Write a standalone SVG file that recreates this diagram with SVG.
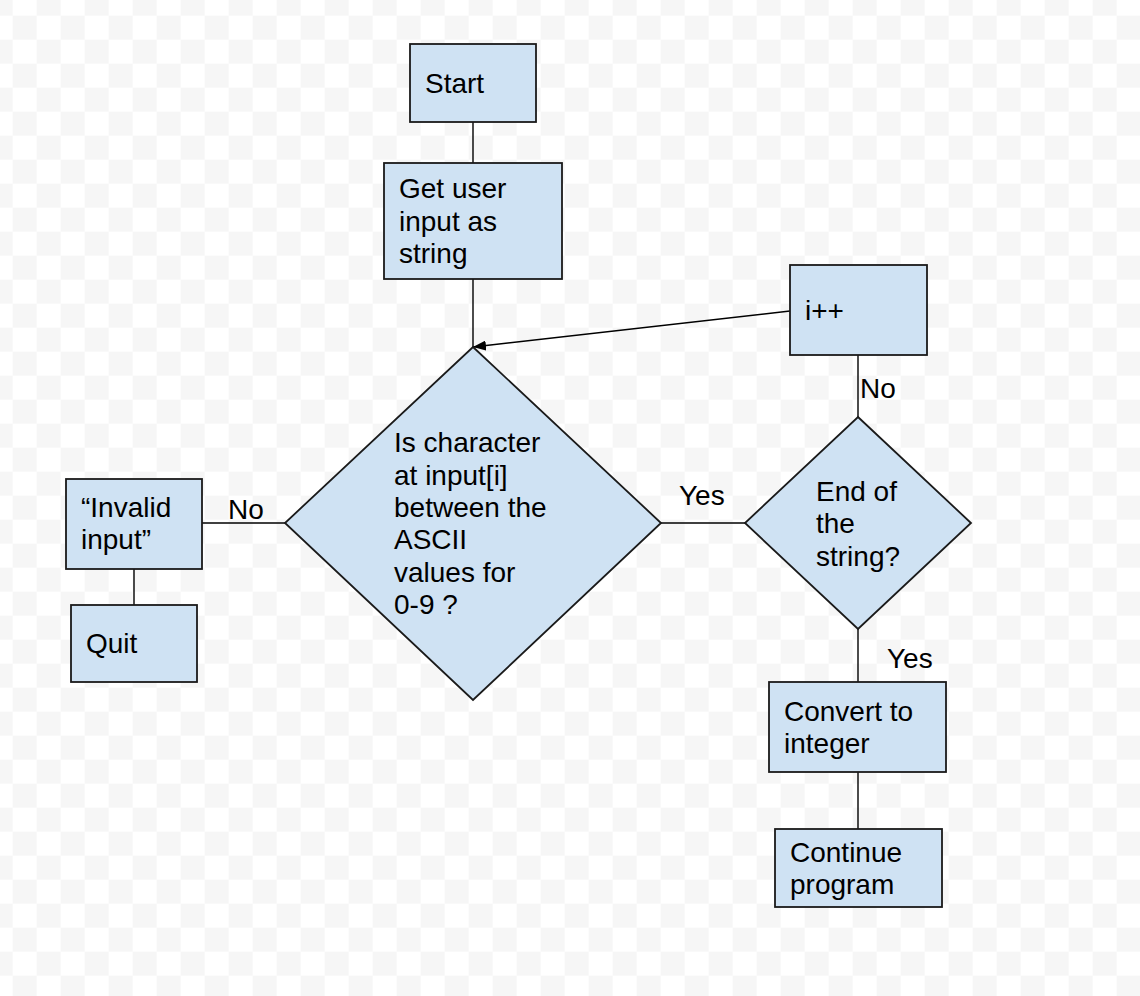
<svg xmlns="http://www.w3.org/2000/svg" width="1140" height="996" viewBox="0 0 1140 996">
<defs>
<pattern id="checker" x="-11.33" y="-8.33" width="48" height="48" patternUnits="userSpaceOnUse">
<rect x="0" y="0" width="48" height="48" fill="#ffffff"/>
<rect x="0" y="0" width="24" height="24" fill="#f6f6f6"/>
<rect x="24" y="24" width="24" height="24" fill="#f6f6f6"/>
</pattern>
<marker id="arrow" viewBox="0 0 13 10" refX="13" refY="5" markerWidth="13" markerHeight="10" markerUnits="userSpaceOnUse" orient="auto">
<path d="M0,0 L13,5 L0,10 Z" fill="#000"/>
</marker>
<style>
.node{fill:#cfe2f3;stroke:#1a1a1a;stroke-width:1.8;}
.lbl{font-family:"Liberation Sans",Arial,sans-serif;font-size:28px;fill:#000;}
.conn{stroke:#000;stroke-width:1.4;fill:none;}
</style>
</defs>
<rect x="0" y="0" width="1140" height="996" fill="url(#checker)"/>

<g id="connectors">
<line class="conn" x1="473" y1="122" x2="473" y2="163"/>
<line class="conn" x1="473" y1="279" x2="473" y2="347"/>
<line class="conn" x1="790" y1="311" x2="473" y2="347" marker-end="url(#arrow)"/>
<line class="conn" x1="858" y1="355" x2="858" y2="417"/>
<line class="conn" x1="661" y1="523" x2="745" y2="523"/>
<line class="conn" x1="858" y1="629" x2="858" y2="682"/>
<line class="conn" x1="858" y1="772" x2="858" y2="829"/>
<line class="conn" x1="202" y1="523" x2="285" y2="523"/>
<line class="conn" x1="134" y1="569" x2="134" y2="605"/>
<text class="lbl" x="860" y="398">No</text>
<text class="lbl" x="679" y="505">Yes</text>
<text class="lbl" x="887" y="668">Yes</text>
<text class="lbl" x="228" y="519">No</text>
</g>

<g id="start">
<rect class="node" x="410" y="44" width="126" height="78"/>
<text class="lbl" x="425" y="93">Start</text>
</g>

<g id="get-input">
<rect class="node" x="384" y="163" width="178" height="116"/>
<text class="lbl" x="399" y="198">Get user</text>
<text class="lbl" x="399" y="230.5">input as</text>
<text class="lbl" x="399" y="263">string</text>
</g>

<g id="increment">
<rect class="node" x="790" y="265" width="137" height="90"/>
<text class="lbl" x="805" y="320">i++</text>
</g>

<g id="is-digit">
<polygon class="node" points="473,347 661,523 473,700 285,523"/>
<text class="lbl" x="394" y="452.3">Is character</text>
<text class="lbl" x="394" y="484.7">at input[i]</text>
<text class="lbl" x="394" y="517">between the</text>
<text class="lbl" x="394" y="549.4">ASCII</text>
<text class="lbl" x="394" y="581.8">values for</text>
<text class="lbl" x="394" y="614.2">0-9 ?</text>
</g>

<g id="end-of-string">
<polygon class="node" points="858,417 971,523 858,629 745,523"/>
<text class="lbl" x="816" y="501">End of</text>
<text class="lbl" x="816" y="533.4">the</text>
<text class="lbl" x="816" y="565.8">string?</text>
</g>

<g id="invalid-input">
<rect class="node" x="66" y="479" width="136" height="90"/>
<text class="lbl" x="81" y="517">“Invalid</text>
<text class="lbl" x="81" y="549">input”</text>
</g>

<g id="quit">
<rect class="node" x="71" y="605" width="126" height="77"/>
<text class="lbl" x="86" y="653">Quit</text>
</g>

<g id="convert">
<rect class="node" x="769" y="682" width="177" height="90"/>
<text class="lbl" x="784" y="721">Convert to</text>
<text class="lbl" x="784" y="753">integer</text>
</g>

<g id="continue">
<rect class="node" x="775" y="829" width="167" height="78"/>
<text class="lbl" x="790" y="862">Continue</text>
<text class="lbl" x="790" y="894">program</text>
</g>
</svg>
